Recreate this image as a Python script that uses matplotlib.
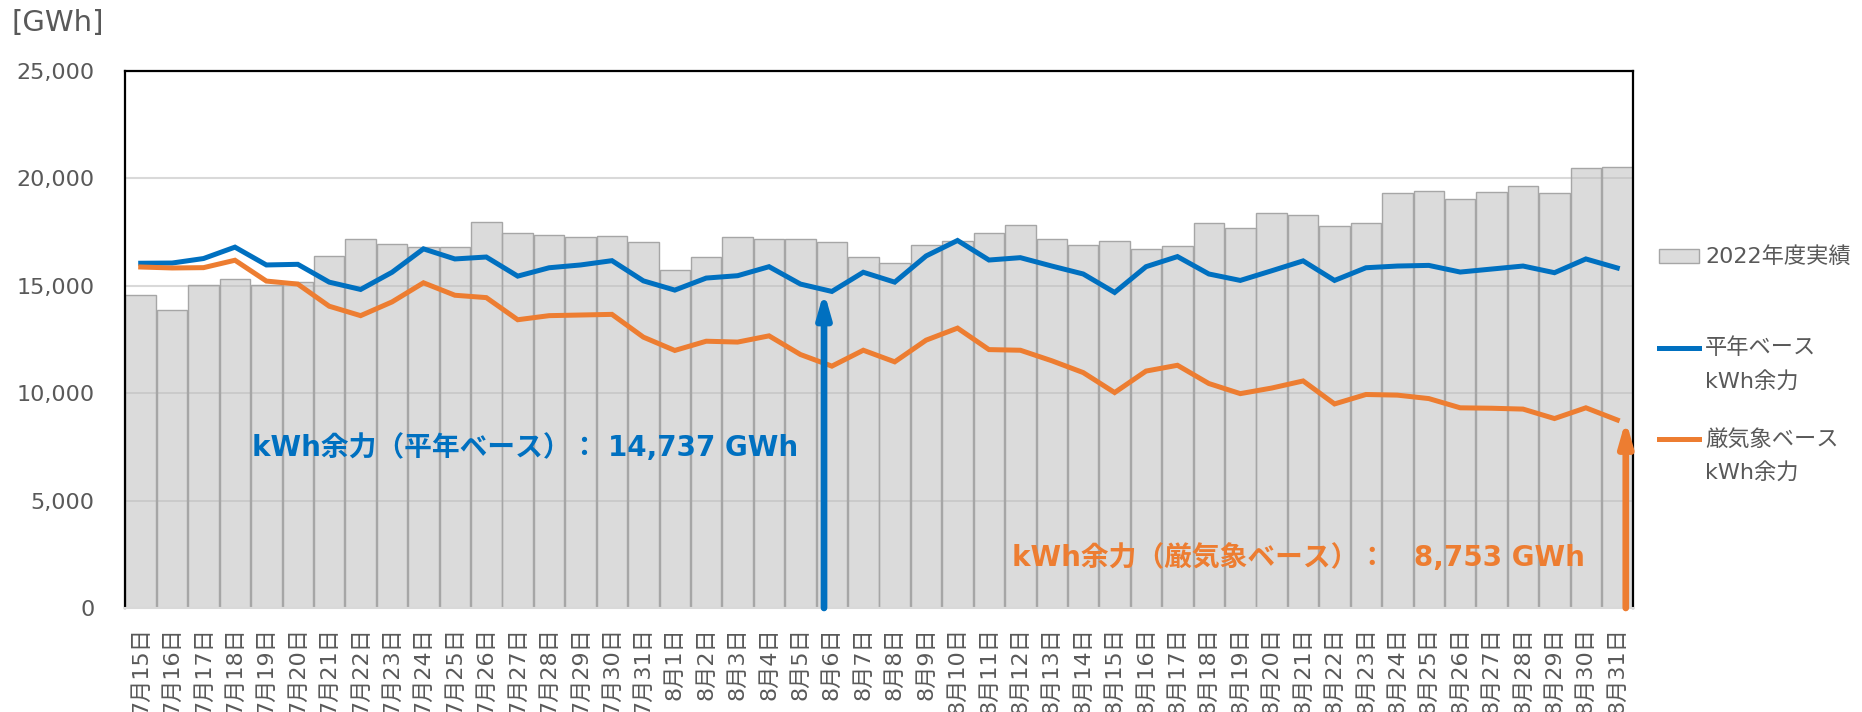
import matplotlib
matplotlib.use("Agg")
import matplotlib.pyplot as plt
from matplotlib.patches import Rectangle
from matplotlib.lines import Line2D
from matplotlib.ticker import FuncFormatter

plt.rcParams['font.family'] = ['DejaVu Sans', 'Noto Sans CJK JP']

# ---- data ----
dates = [f"7月{d}日" for d in range(15, 32)] + [f"8月{d}日" for d in range(1, 32)]

actual_2022 = [14550, 13880, 15060, 15300, 15020, 15190, 16380, 17190, 16950, 16800,
               16800, 17950, 17480, 17380, 17280, 17330, 17050, 15720, 16330, 17280,
               17190, 17190, 17050, 16330, 16050, 16890, 17090, 17470, 17840, 17190,
               16890, 17090, 16720, 16840, 17910, 17700, 18380, 18280, 17800, 17910,
               19330, 19410, 19030, 19360, 19640, 19330, 20480, 20550]

normal_base = [16050, 16060, 16270, 16800, 15970, 16000, 15170, 14830, 15630, 16720,
               16250, 16340, 15450, 15840, 15970, 16170, 15230, 14800, 15360, 15470,
               15890, 15080, 14737, 15630, 15170, 16390, 17110, 16200, 16310, 15920,
               15550, 14690, 15890, 16360, 15550, 15250, 15700, 16160, 15250, 15840,
               15920, 15950, 15640, 15780, 15920, 15610, 16250, 15830]

severe_base = [15875, 15830, 15845, 16190, 15220, 15080, 14050, 13610, 14250, 15140,
               14560, 14450, 13420, 13610, 13640, 13670, 12610, 11990, 12420, 12380,
               12670, 11800, 11260, 12000, 11460, 12470, 13030, 12030, 12000, 11510,
               10960, 10030, 11030, 11300, 10450, 9980, 10240, 10570, 9500, 9940,
               9910, 9750, 9320, 9300, 9260, 8820, 9320, 8753]

y_ticks = [0, 5000, 10000, 15000, 20000, 25000]
legend_labels = ["2022年度実績", "平年ベース\nkWh余力", "厳気象ベース\nkWh余力"]
normal_text = "kWh余力（平年ベース）： 14,737 GWh"
severe_text = "kWh余力（厳気象ベース）：　8,753 GWh"
normal_idx = 22   # 8月6日
severe_idx = 47   # 8月31日

BLUE = "#0070C0"
ORANGE = "#ED7D31"
GREY_TXT = "#595959"

W, H = 1862, 712
fig = plt.figure(figsize=(W / 100, H / 100), dpi=100)
ax = fig.add_axes([125 / W, 1 - 608 / H, (1633 - 125) / W, (608 - 71) / H])

x = list(range(len(dates)))
ax.bar(x, actual_2022, width=0.97, facecolor=(0.75, 0.75, 0.75, 0.55),
       edgecolor="#A6A6A6", linewidth=1.0, zorder=2)
ax.plot(x, normal_base, color=BLUE, lw=3.6, solid_joinstyle="miter", zorder=4)
ax.plot(x, severe_base, color=ORANGE, lw=3.6, solid_joinstyle="miter", zorder=4)

# arrows
for idx, vals, col, dx in [(normal_idx, normal_base, BLUE, -0.25),
                           (severe_idx, severe_base, ORANGE, 0.27)]:
    ax.annotate("", xy=(idx + dx, vals[idx]), xytext=(idx + dx, 0),
                arrowprops=dict(arrowstyle="-|>,head_length=0.7,head_width=0.2",
                                mutation_scale=20, color=col, lw=4.8,
                                shrinkA=0, shrinkB=0),
                zorder=5)

ax.text(3.54, 7470, normal_text, color=BLUE, fontsize=20, fontweight="bold",
        ha="left", va="center", zorder=6)
ax.text(27.72, 2330, severe_text, color=ORANGE, fontsize=20, fontweight="bold",
        ha="left", va="center", zorder=6)

ax.set_xlim(-0.5, len(dates) - 0.5)
ax.set_ylim(0, 25000)
ax.set_yticks(y_ticks)
ax.yaxis.set_major_formatter(FuncFormatter(lambda v, p: f"{int(v):,}"))
ax.set_xticks(x)
ax.set_xticklabels(dates, rotation=90, va="top", ha="center")
ax.tick_params(axis="y", length=0, pad=22, labelsize=16, labelcolor=GREY_TXT)
ax.tick_params(axis="x", length=0, pad=14, labelsize=16, labelcolor=GREY_TXT)

ax.set_axisbelow(True)
ax.yaxis.grid(True, color="#D9D9D9", lw=1.5, zorder=0)
for s in ["top", "left", "right"]:
    ax.spines[s].set_color("black")
    ax.spines[s].set_linewidth(1.6)
ax.spines["bottom"].set_color("#D9D9D9")
ax.spines["bottom"].set_linewidth(1.5)

fig.text(11 / W, 1 - 23 / H, "[GWh]", fontsize=21, color=GREY_TXT, ha="left", va="center")

# manual legend
def fx(px):
    return px / W

def fy(py):
    return 1 - py / H

fig.add_artist(Rectangle((fx(1659), fy(263)), fx(1699) - fx(1659), fy(249) - fy(263),
                         transform=fig.transFigure, facecolor="#DCDCDC",
                         edgecolor="#A6A6A6", lw=1))
fig.text(fx(1705), fy(256), legend_labels[0], fontsize=16, color=GREY_TXT,
         ha="left", va="center")
for (ly, col, lab) in [(348, BLUE, legend_labels[1]), (439, ORANGE, legend_labels[2])]:
    fig.add_artist(Line2D([fx(1659), fx(1699)], [fy(ly), fy(ly)], color=col, lw=3.6,
                          transform=fig.transFigure))
    l1, l2 = lab.split("\n")
    fig.text(fx(1705), fy(ly), l1, fontsize=16, color=GREY_TXT, ha="left", va="center")
    fig.text(fx(1705), fy(ly + 33), l2, fontsize=16, color=GREY_TXT, ha="left", va="center")

fig.savefig("out.png", dpi=100)
